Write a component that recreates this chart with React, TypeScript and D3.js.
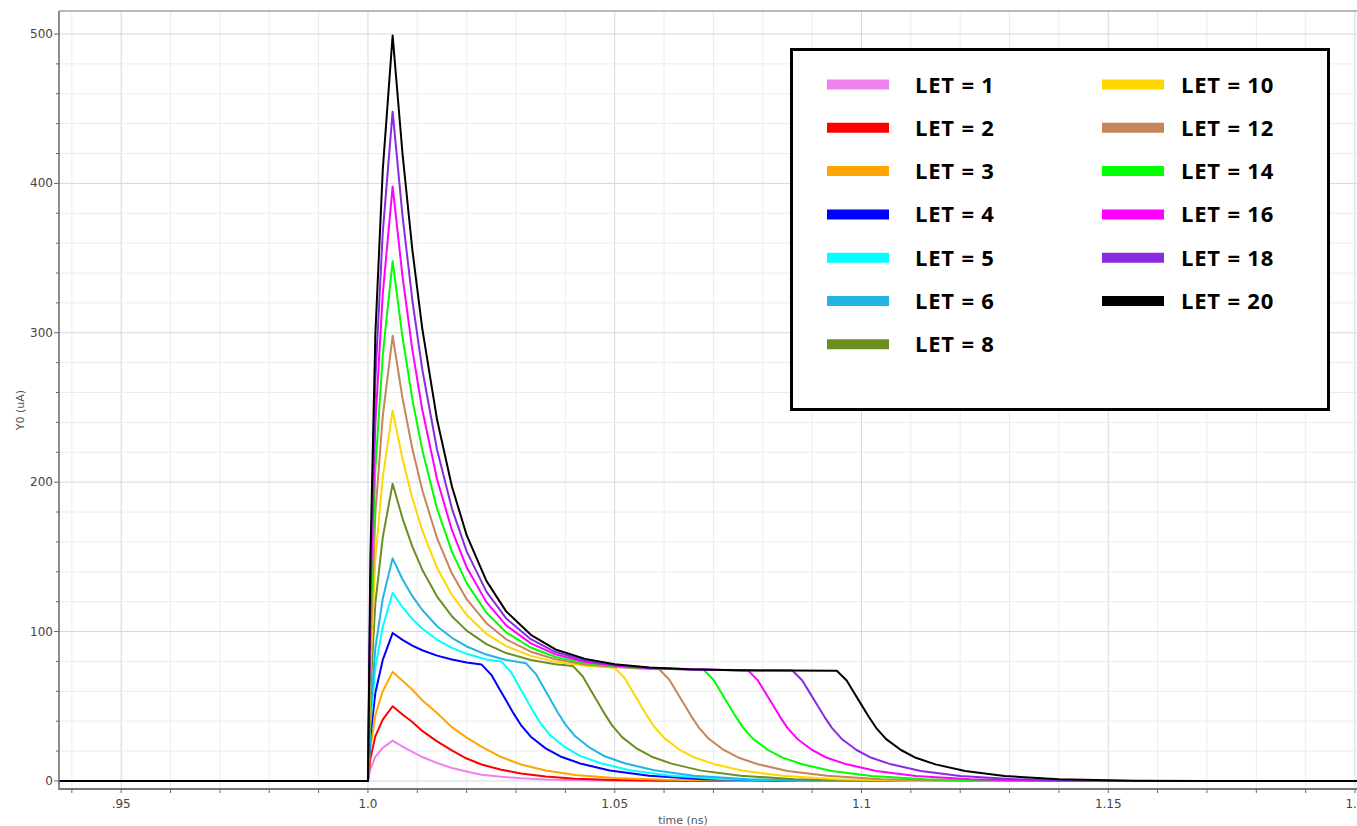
import React from "react";
import * as d3 from "d3";

type Pt = [number, number];

// time (ns), current (uA)
const let1: Pt[] = [[0.93, 0], [1.0, 0], [1.0005, 8.1], [1.0015, 16.2], [1.003, 22.1], [1.005, 27], [1.007, 23], [1.009, 19.5], [1.011, 16], [1.014, 12], [1.017, 8.7], [1.02, 6.3], [1.023, 4.2], [1.027, 2.8], [1.031, 1.8], [1.036, 1], [1.042, 0.5], [1.05, 0.2], [1.06, 0], [1.21, 0]];
const let2: Pt[] = [[0.93, 0], [1.0, 0], [1.0005, 15], [1.0015, 30], [1.003, 41], [1.005, 50], [1.007, 44.5], [1.009, 39.5], [1.011, 33.5], [1.014, 26.5], [1.017, 20.5], [1.02, 15], [1.023, 11], [1.027, 7.5], [1.031, 5], [1.036, 3], [1.042, 1.5], [1.05, 0.6], [1.06, 0.2], [1.075, 0], [1.21, 0]];
const let3: Pt[] = [[0.93, 0], [1.0, 0], [1.0005, 22], [1.0015, 44], [1.003, 60], [1.005, 73], [1.007, 67], [1.009, 61], [1.011, 54], [1.014, 45.5], [1.017, 36], [1.02, 29], [1.023, 23], [1.027, 16], [1.031, 11], [1.036, 7], [1.042, 4], [1.05, 2], [1.06, 0.8], [1.075, 0.2], [1.09, 0], [1.21, 0]];
const let4: Pt[] = [[0.93, 0], [1.0, 0], [1.0005, 30], [1.0015, 59], [1.003, 81], [1.005, 99], [1.007, 94.4], [1.009, 90.6], [1.011, 87.5], [1.014, 83.9], [1.017, 81.3], [1.02, 79.3], [1.023, 78], [1.025, 71], [1.0265, 62.4], [1.028, 53.8], [1.0295, 45.2], [1.031, 37.4], [1.033, 29.6], [1.036, 21.8], [1.039, 16.4], [1.043, 11.7], [1.049, 7], [1.057, 3.5], [1.068, 1.2], [1.083, 0.2], [1.098, 0], [1.21, 0]];
const let5: Pt[] = [[0.93, 0], [1.0, 0], [1.0005, 38], [1.0015, 76], [1.003, 103], [1.005, 126], [1.007, 116.3], [1.009, 108.4], [1.011, 102], [1.014, 94.5], [1.017, 89.1], [1.02, 85.1], [1.024, 81.3], [1.027, 80], [1.029, 72.8], [1.0305, 64], [1.032, 55.2], [1.0335, 46.4], [1.035, 38.4], [1.037, 30.4], [1.04, 22.4], [1.043, 16.8], [1.047, 12], [1.053, 7.2], [1.061, 3.6], [1.072, 1.2], [1.087, 0.2], [1.102, 0], [1.21, 0]];
const let6: Pt[] = [[0.93, 0], [1.0, 0], [1.0005, 45], [1.0015, 89], [1.003, 122], [1.005, 149], [1.007, 135], [1.009, 123.7], [1.011, 114.4], [1.014, 103.6], [1.017, 95.8], [1.02, 90], [1.024, 84.6], [1.028, 81], [1.032, 78.8], [1.034, 71.7], [1.0355, 63], [1.037, 54.4], [1.0385, 45.7], [1.04, 37.8], [1.042, 29.9], [1.045, 22.1], [1.048, 16.5], [1.052, 11.8], [1.058, 7.1], [1.066, 3.5], [1.077, 1.2], [1.092, 0.2], [1.107, 0], [1.21, 0]];
const let8: Pt[] = [[0.93, 0], [1.0, 0], [1.0005, 60], [1.0015, 119], [1.003, 163], [1.005, 199], [1.007, 175.8], [1.009, 156.8], [1.011, 141.4], [1.014, 123.4], [1.017, 110.3], [1.02, 100.6], [1.024, 91.6], [1.028, 85.6], [1.033, 81], [1.038, 78.1], [1.0415, 77], [1.0435, 70.1], [1.045, 61.6], [1.0465, 53.1], [1.048, 44.7], [1.0495, 37], [1.0515, 29.3], [1.0545, 21.6], [1.0575, 16.2], [1.0615, 11.6], [1.0675, 6.9], [1.0755, 3.5], [1.0865, 1.2], [1.1015, 0.2], [1.1165, 0], [1.21, 0]];
const let10: Pt[] = [[0.93, 0], [1.0, 0], [1.0005, 74], [1.0015, 149], [1.003, 203], [1.005, 248], [1.007, 215.6], [1.009, 189.2], [1.011, 167.8], [1.014, 142.7], [1.017, 124.5], [1.02, 111.1], [1.024, 98.5], [1.028, 90.2], [1.033, 83.7], [1.038, 79.7], [1.044, 77.1], [1.05, 75.7], [1.052, 68.9], [1.0535, 60.6], [1.055, 52.2], [1.0565, 43.9], [1.058, 36.3], [1.06, 28.8], [1.063, 21.2], [1.066, 15.9], [1.07, 11.4], [1.076, 6.8], [1.084, 3.4], [1.095, 1.1], [1.11, 0.2], [1.125, 0], [1.21, 0]];
const let12: Pt[] = [[0.93, 0], [1.0, 0], [1.0005, 89], [1.0015, 179], [1.003, 244], [1.005, 298], [1.007, 256.3], [1.009, 222.3], [1.011, 194.7], [1.014, 162.5], [1.017, 139], [1.02, 121.7], [1.024, 105.6], [1.028, 94.8], [1.033, 86.5], [1.038, 81.4], [1.044, 78], [1.05, 76.2], [1.055, 75.2], [1.059, 74.8], [1.061, 68.1], [1.0625, 59.8], [1.064, 51.6], [1.0655, 43.4], [1.067, 35.9], [1.069, 28.4], [1.072, 20.9], [1.075, 15.7], [1.079, 11.2], [1.085, 6.7], [1.093, 3.4], [1.104, 1.1], [1.119, 0.2], [1.134, 0], [1.21, 0]];
const let14: Pt[] = [[0.93, 0], [1.0, 0], [1.0005, 104], [1.0015, 209], [1.003, 285], [1.005, 348], [1.007, 297], [1.009, 255.4], [1.011, 221.7], [1.014, 182.2], [1.017, 153.5], [1.02, 132.4], [1.024, 112.6], [1.028, 99.5], [1.033, 89.3], [1.038, 83], [1.044, 78.9], [1.05, 76.7], [1.057, 75.3], [1.068, 74.4], [1.07, 67.7], [1.0715, 59.5], [1.073, 51.3], [1.0745, 43.2], [1.076, 35.7], [1.078, 28.3], [1.081, 20.8], [1.084, 15.6], [1.088, 11.2], [1.094, 6.7], [1.102, 3.3], [1.113, 1.1], [1.128, 0.2], [1.143, 0], [1.21, 0]];
const let16: Pt[] = [[0.93, 0], [1.0, 0], [1.0005, 119], [1.0015, 239], [1.003, 326], [1.005, 398], [1.007, 337.7], [1.009, 288.5], [1.011, 248.6], [1.014, 202], [1.017, 168], [1.02, 143], [1.024, 119.7], [1.028, 104.1], [1.033, 92.1], [1.038, 84.7], [1.044, 79.8], [1.05, 77.1], [1.057, 75.5], [1.065, 74.6], [1.077, 74], [1.079, 67.3], [1.0805, 59.2], [1.082, 51.1], [1.0835, 42.9], [1.085, 35.5], [1.087, 28.1], [1.09, 20.7], [1.093, 15.5], [1.097, 11.1], [1.103, 6.7], [1.111, 3.3], [1.122, 1.1], [1.137, 0.2], [1.152, 0], [1.21, 0]];
const let18: Pt[] = [[0.93, 0], [1.0, 0], [1.0005, 134], [1.0015, 269], [1.003, 367], [1.005, 448], [1.007, 378.4], [1.009, 321.6], [1.011, 275.6], [1.014, 221.7], [1.017, 182.5], [1.02, 153.7], [1.024, 126.7], [1.028, 108.8], [1.033, 94.9], [1.038, 86.3], [1.044, 80.7], [1.05, 77.6], [1.057, 75.8], [1.065, 74.7], [1.075, 74.1], [1.086, 73.9], [1.088, 67.2], [1.0895, 59.1], [1.091, 51], [1.0925, 42.9], [1.094, 35.5], [1.096, 28.1], [1.099, 20.7], [1.102, 15.5], [1.106, 11.1], [1.112, 6.7], [1.12, 3.3], [1.131, 1.1], [1.146, 0.2], [1.161, 0], [1.21, 0]];
const let20: Pt[] = [[0.93, 0], [1.0, 0], [1.0005, 150], [1.0015, 299], [1.003, 409], [1.005, 499], [1.007, 420], [1.009, 355.4], [1.011, 303], [1.014, 241.9], [1.017, 197.3], [1.02, 164.5], [1.024, 133.9], [1.028, 113.5], [1.033, 97.8], [1.038, 88], [1.044, 81.7], [1.05, 78.1], [1.057, 76], [1.065, 74.8], [1.075, 74.1], [1.085, 73.9], [1.095, 73.8], [1.097, 67.2], [1.0985, 59], [1.1, 50.9], [1.1015, 42.8], [1.103, 35.4], [1.105, 28], [1.108, 20.7], [1.111, 15.5], [1.115, 11.1], [1.121, 6.6], [1.129, 3.3], [1.14, 1.1], [1.155, 0.2], [1.17, 0], [1.21, 0]];

const seriesLabels = ["LET = 1", "LET = 2", "LET = 3", "LET = 4", "LET = 5", "LET = 6", "LET = 8", "LET = 10", "LET = 12", "LET = 14", "LET = 16", "LET = 18", "LET = 20"];
const seriesColors = ["#EE82EE", "#FF0000", "#FFA500", "#0000FF", "#00FFFF", "#22B4E4", "#6B8E23", "#FFD700", "#C8845A", "#00FF00", "#FF00FF", "#8A2BE2", "#000000"];
const seriesData = [let1, let2, let3, let4, let5, let6, let8, let10, let12, let14, let16, let18, let20];

const xTickValues = [0.95, 1.0, 1.05, 1.1, 1.15, 1.2];
const xTickLabels = [".95", "1.0", "1.05", "1.1", "1.15", "1.2"];
const yTickValues = [0, 100, 200, 300, 400, 500];
const xTitle = "time (ns)";
const yTitle = "Y0 (uA)";

const W = 1357;
const H = 826;
const M = { left: 59, top: 11, right: W, bottom: 789 };

export default function App() {
  const x = d3.scaleLinear().domain([0.9374, 1.2004]).range([M.left, M.right]);
  const y = d3.scaleLinear().domain([-5.4, 515.4]).range([M.bottom, M.top]);
  const line = d3
    .line<Pt>()
    .x((d) => x(d[0]))
    .y((d) => y(d[1]));

  const xMinor = d3.range(94, 121).map((v) => v / 100);
  const yMinor = d3.range(0, 501, 20);
  const font = "'DejaVu Sans', sans-serif";

  const legendRowY = (i: number) => 84.5 + i * 43.3;

  return (
    <svg
      width={W}
      height={H}
      style={{ position: "absolute", left: 0, top: 0, background: "#fff" }}
    >
      <defs>
        <clipPath id="plot">
          <rect x={M.left} y={M.top} width={M.right - M.left} height={M.bottom - M.top} />
        </clipPath>
      </defs>
      <rect x={0} y={0} width={W} height={H} fill="#fff" />
      {/* grid */}
      <g>
        {xMinor.map((v, i) => {
          const major = Math.abs(v * 100 - Math.round(v * 20) * 5) < 1e-6;
          return (
            <line
              key={"gx" + i}
              x1={x(v)}
              x2={x(v)}
              y1={M.top}
              y2={M.bottom}
              stroke={major ? "#d8d8d8" : "#ececec"}
              strokeWidth={1}
            />
          );
        })}
        {yMinor.map((v, i) => (
          <line
            key={"gy" + i}
            x1={M.left}
            x2={M.right}
            y1={y(v)}
            y2={y(v)}
            stroke={v % 100 === 0 ? "#d8d8d8" : "#ececec"}
            strokeWidth={1}
          />
        ))}
      </g>
      {/* series */}
      <g clipPath="url(#plot)">
        {seriesData.map((d, i) => (
          <path
            key={seriesLabels[i]}
            d={line(d) || ""}
            fill="none"
            stroke={seriesColors[i]}
            strokeWidth={2}
            strokeLinejoin="round"
          />
        ))}
      </g>
      {/* frame */}
      <line x1={M.left} x2={M.right} y1={M.top} y2={M.top} stroke="#777" strokeWidth={1} />
      <line x1={M.left} x2={M.left} y1={M.top} y2={M.bottom + 1} stroke="#666" strokeWidth={1.5} />
      <line x1={M.left} x2={M.right} y1={M.bottom} y2={M.bottom} stroke="#777" strokeWidth={2} />
      {/* x ticks */}
      {xMinor.map((v, i) => (
        <line key={"tx" + i} x1={x(v)} x2={x(v)} y1={M.bottom} y2={M.bottom + 4} stroke="#666" strokeWidth={1} />
      ))}
      {xTickValues.map((v, i) => (
        <text
          key={"lx" + i}
          x={x(v)}
          y={804}
          textAnchor="middle"
          dominantBaseline="central"
          fontFamily={font}
          fontSize={12}
          fill="#444"
        >
          {xTickLabels[i]}
        </text>
      ))}
      {/* y ticks */}
      {yMinor.map((v, i) => (
        <line
          key={"ty" + i}
          x1={M.left - (v % 100 === 0 ? 5 : 3)}
          x2={M.left}
          y1={y(v)}
          y2={y(v)}
          stroke="#666"
          strokeWidth={1}
        />
      ))}
      {yTickValues.map((v, i) => (
        <text
          key={"ly" + i}
          x={M.left - 6}
          y={y(v)}
          textAnchor="end"
          dominantBaseline="central"
          fontFamily={font}
          fontSize={12}
          fill="#444"
        >
          {v}
        </text>
      ))}
      <text x={683} y={820} textAnchor="middle" dominantBaseline="central" fontFamily={font} fontSize={11} fill="#555">
        {xTitle}
      </text>
      <text
        transform={`translate(20,410) rotate(-90)`}
        textAnchor="middle"
        dominantBaseline="central"
        fontFamily={font}
        fontSize={11}
        fill="#555"
      >
        {yTitle}
      </text>
      {/* legend */}
      <g>
        <rect x={791.5} y={49.5} width={537} height={360} fill="#fff" stroke="#000" strokeWidth={3} />
        {seriesLabels.map((lab, i) => {
          const col = i < 7 ? 0 : 1;
          const row = i < 7 ? i : i - 7;
          const sx = col === 0 ? 827 : 1102;
          const tx = col === 0 ? 915 : 1181;
          const cy = legendRowY(row);
          return (
            <g key={"lg" + i}>
              <line x1={sx} x2={sx + 62} y1={cy} y2={cy} stroke={seriesColors[i]} strokeWidth={10} />
              <text
                x={tx}
                y={cy - 1}
                dominantBaseline="central"
                fontFamily="'Open Sans', sans-serif"
                fontWeight={700}
                fontSize={22}
                letterSpacing={0.8}
                fill="#000"
              >
                {lab}
              </text>
            </g>
          );
        })}
      </g>
    </svg>
  );
}
